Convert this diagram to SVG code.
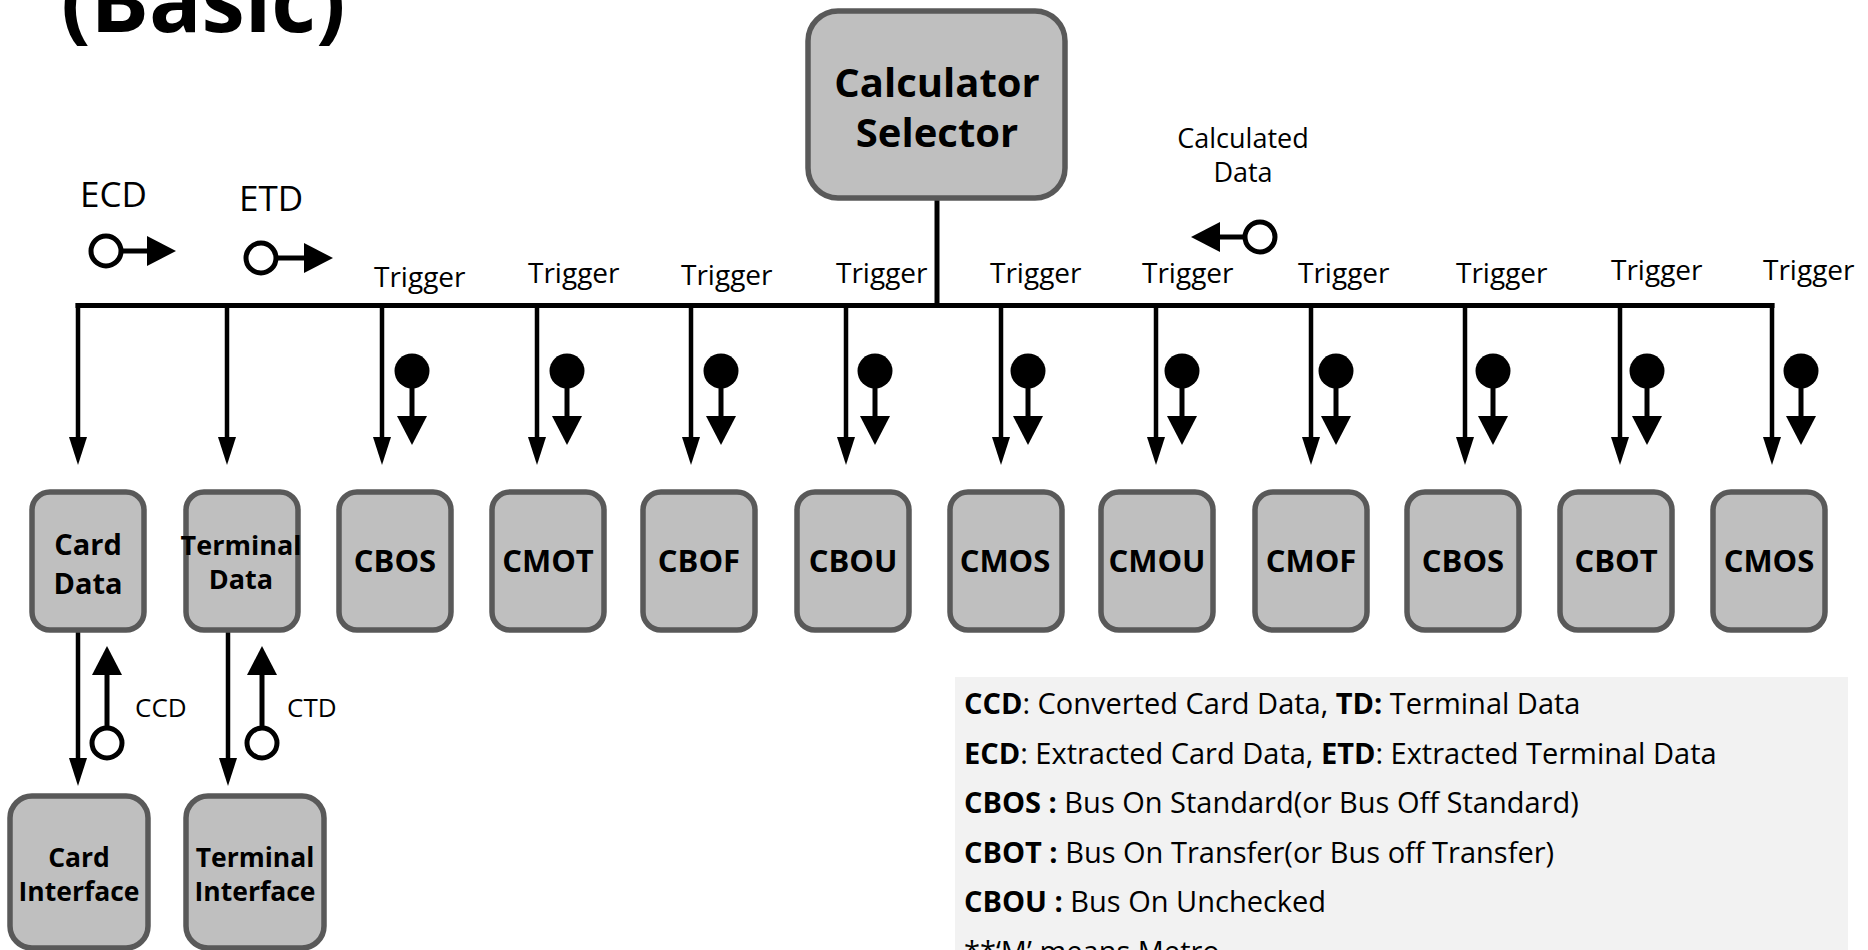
<svg xmlns="http://www.w3.org/2000/svg" width="1868" height="950" viewBox="0 0 1868 950">
<style>
text{font-family:"Open Sans","Noto Sans CJK KR",sans-serif;fill:#000}
.b{font-weight:bold}
.node rect{fill:#bfbfbf;stroke:#595959;stroke-width:5.5}
.nl{font-weight:bold;font-size:31px;text-anchor:middle}
.trig{font-size:28px}
.ln{stroke:#000;stroke-width:5;fill:none}
.drop{stroke:#000;stroke-width:4.5;fill:none;marker-end:url(#mn)}
.pin{stroke:#000;stroke-width:5;fill:none;marker-end:url(#mw)}
.ring{fill:#fff;stroke:#000;stroke-width:5}
.leg{font-size:29px}
</style>
<defs>
<marker id="mn" markerUnits="userSpaceOnUse" markerWidth="28" markerHeight="18" refX="0" refY="9" orient="auto" overflow="visible"><path d="M0,0 L28,9 L0,18 z" fill="#000"/></marker>
<marker id="mw" markerUnits="userSpaceOnUse" markerWidth="29" markerHeight="30" refX="0" refY="15" orient="auto" overflow="visible"><path d="M0,0 L29,15 L0,30 z" fill="#000"/></marker>
</defs>
<rect width="1868" height="950" fill="#fff"/>

<text id="title" x="61" y="32" class="b" font-size="87">(Basic)</text>

<g id="legend">
<rect x="955" y="677" width="893" height="290" fill="#f2f2f2"/>
<text class="leg" x="964" y="714"><tspan class="b">CCD</tspan>: Converted Card Data, <tspan class="b">TD:</tspan> Terminal Data</text>
<text class="leg" x="964" y="764"><tspan class="b">ECD</tspan>: Extracted Card Data, <tspan class="b">ETD</tspan>: Extracted Terminal Data</text>
<text class="leg" x="964" y="813"><tspan class="b">CBOS :</tspan> Bus On Standard(or Bus Off Standard)</text>
<text class="leg" x="964" y="863"><tspan class="b">CBOT :</tspan> Bus On Transfer(or Bus off Transfer)</text>
<text class="leg" x="964" y="912"><tspan class="b">CBOU :</tspan> Bus On Unchecked</text>
<text class="leg" x="964" y="962">**‘M’ means Metro</text>
</g>

<g id="connectors">
<line class="ln" x1="937" y1="198" x2="937" y2="305"/>
<line class="ln" x1="75.5" y1="305.5" x2="1774.5" y2="305.5"/>
<line class="drop" x1="78" y1="303" x2="78" y2="437"/>
<line class="drop" x1="227" y1="303" x2="227" y2="437"/>
<line class="drop" x1="382" y1="303" x2="382" y2="437"/>
<line class="drop" x1="537" y1="303" x2="537" y2="437"/>
<line class="drop" x1="691" y1="303" x2="691" y2="437"/>
<line class="drop" x1="846" y1="303" x2="846" y2="437"/>
<line class="drop" x1="1001" y1="303" x2="1001" y2="437"/>
<line class="drop" x1="1156" y1="303" x2="1156" y2="437"/>
<line class="drop" x1="1311" y1="303" x2="1311" y2="437"/>
<line class="drop" x1="1465" y1="303" x2="1465" y2="437"/>
<line class="drop" x1="1620" y1="303" x2="1620" y2="437"/>
<line class="drop" x1="1772" y1="303" x2="1772" y2="437"/>

<g id="pins">
<circle cx="412" cy="371" r="17.5"/><line class="pin" x1="412" y1="385" x2="412" y2="416"/>
<circle cx="567" cy="371" r="17.5"/><line class="pin" x1="567" y1="385" x2="567" y2="416"/>
<circle cx="721" cy="371" r="17.5"/><line class="pin" x1="721" y1="385" x2="721" y2="416"/>
<circle cx="875" cy="371" r="17.5"/><line class="pin" x1="875" y1="385" x2="875" y2="416"/>
<circle cx="1028" cy="371" r="17.5"/><line class="pin" x1="1028" y1="385" x2="1028" y2="416"/>
<circle cx="1182" cy="371" r="17.5"/><line class="pin" x1="1182" y1="385" x2="1182" y2="416"/>
<circle cx="1336" cy="371" r="17.5"/><line class="pin" x1="1336" y1="385" x2="1336" y2="416"/>
<circle cx="1493" cy="371" r="17.5"/><line class="pin" x1="1493" y1="385" x2="1493" y2="416"/>
<circle cx="1647" cy="371" r="17.5"/><line class="pin" x1="1647" y1="385" x2="1647" y2="416"/>
<circle cx="1801" cy="371" r="17.5"/><line class="pin" x1="1801" y1="385" x2="1801" y2="416"/>
</g>

<g id="ecd-sym"><line class="pin" x1="121" y1="251" x2="147" y2="251"/><circle class="ring" cx="106" cy="251" r="15"/></g>
<g id="etd-sym"><line class="pin" x1="276" y1="258" x2="304" y2="258"/><circle class="ring" cx="261" cy="258" r="15"/></g>
<g id="calc-sym"><line class="pin" x1="1245" y1="237" x2="1220" y2="237"/><circle class="ring" cx="1260" cy="237" r="15"/></g>

<line class="drop" x1="78" y1="630" x2="78" y2="758"/>
<line class="drop" x1="228" y1="630" x2="228" y2="758"/>
<g id="ccd-sym"><line class="pin" x1="107" y1="728" x2="107" y2="675"/><circle class="ring" cx="107" cy="743" r="15"/></g>
<g id="ctd-sym"><line class="pin" x1="262" y1="728" x2="262" y2="675"/><circle class="ring" cx="262" cy="743" r="15"/></g>
</g>

<g id="labels">
<text x="80" y="207" font-size="35">ECD</text>
<text x="239" y="211" font-size="35">ETD</text>
<text x="1243" y="148" font-size="27" text-anchor="middle">Calculated</text>
<text x="1243" y="182" font-size="27" text-anchor="middle">Data</text>
<text x="135" y="717" font-size="26">CCD</text>
<text x="287" y="717" font-size="26">CTD</text>
<text class="trig" x="374" y="287">Trigger</text>
<text class="trig" x="528" y="283">Trigger</text>
<text class="trig" x="681" y="285">Trigger</text>
<text class="trig" x="836" y="283">Trigger</text>
<text class="trig" x="990" y="283">Trigger</text>
<text class="trig" x="1142" y="283">Trigger</text>
<text class="trig" x="1298" y="283">Trigger</text>
<text class="trig" x="1456" y="283">Trigger</text>
<text class="trig" x="1611" y="280">Trigger</text>
<text class="trig" x="1763" y="280">Trigger</text>
</g>

<g id="calculator-selector" class="node"><rect x="808" y="11" width="257" height="187" rx="30"/>
<text class="b" x="937" y="97" font-size="40" text-anchor="middle">Calculator</text>
<text class="b" x="937" y="147" font-size="40" text-anchor="middle">Selector</text></g>

<g id="card-data" class="node"><rect x="32" y="492" width="112" height="138" rx="18"/>
<text class="b" x="88" y="555" font-size="29" text-anchor="middle">Card</text>
<text class="b" x="88" y="594" font-size="29" text-anchor="middle">Data</text></g>
<g id="terminal-data" class="node"><rect x="186" y="492" width="112" height="138" rx="18"/>
<text class="b" x="241" y="555" font-size="27" text-anchor="middle">Terminal</text>
<text class="b" x="241" y="589" font-size="27" text-anchor="middle">Data</text></g>
<g id="n-cbos1" class="node"><rect x="339" y="492" width="112" height="138" rx="18"/><text class="nl" x="395" y="572">CBOS</text></g>
<g id="n-cmot" class="node"><rect x="492" y="492" width="112" height="138" rx="18"/><text class="nl" x="548" y="572">CMOT</text></g>
<g id="n-cbof" class="node"><rect x="643" y="492" width="112" height="138" rx="18"/><text class="nl" x="699" y="572">CBOF</text></g>
<g id="n-cbou" class="node"><rect x="797" y="492" width="112" height="138" rx="18"/><text class="nl" x="853" y="572">CBOU</text></g>
<g id="n-cmos1" class="node"><rect x="950" y="492" width="112" height="138" rx="18"/><text class="nl" x="1005" y="572">CMOS</text></g>
<g id="n-cmou" class="node"><rect x="1101" y="492" width="112" height="138" rx="18"/><text class="nl" x="1157" y="572">CMOU</text></g>
<g id="n-cmof" class="node"><rect x="1255" y="492" width="112" height="138" rx="18"/><text class="nl" x="1311" y="572">CMOF</text></g>
<g id="n-cbos2" class="node"><rect x="1407" y="492" width="112" height="138" rx="18"/><text class="nl" x="1463" y="572">CBOS</text></g>
<g id="n-cbot" class="node"><rect x="1560" y="492" width="112" height="138" rx="18"/><text class="nl" x="1616" y="572">CBOT</text></g>
<g id="n-cmos2" class="node"><rect x="1713" y="492" width="112" height="138" rx="18"/><text class="nl" x="1769" y="572">CMOS</text></g>

<g id="card-interface" class="node"><rect x="10" y="796" width="138" height="152" rx="22"/>
<text class="b" x="79" y="867" font-size="26.5" text-anchor="middle">Card</text>
<text class="b" x="79" y="901" font-size="26.5" text-anchor="middle">Interface</text></g>
<g id="terminal-interface" class="node"><rect x="186" y="796" width="138" height="152" rx="22"/>
<text class="b" x="255" y="867" font-size="26.5" text-anchor="middle">Terminal</text>
<text class="b" x="255" y="901" font-size="26.5" text-anchor="middle">Interface</text></g>
</svg>
